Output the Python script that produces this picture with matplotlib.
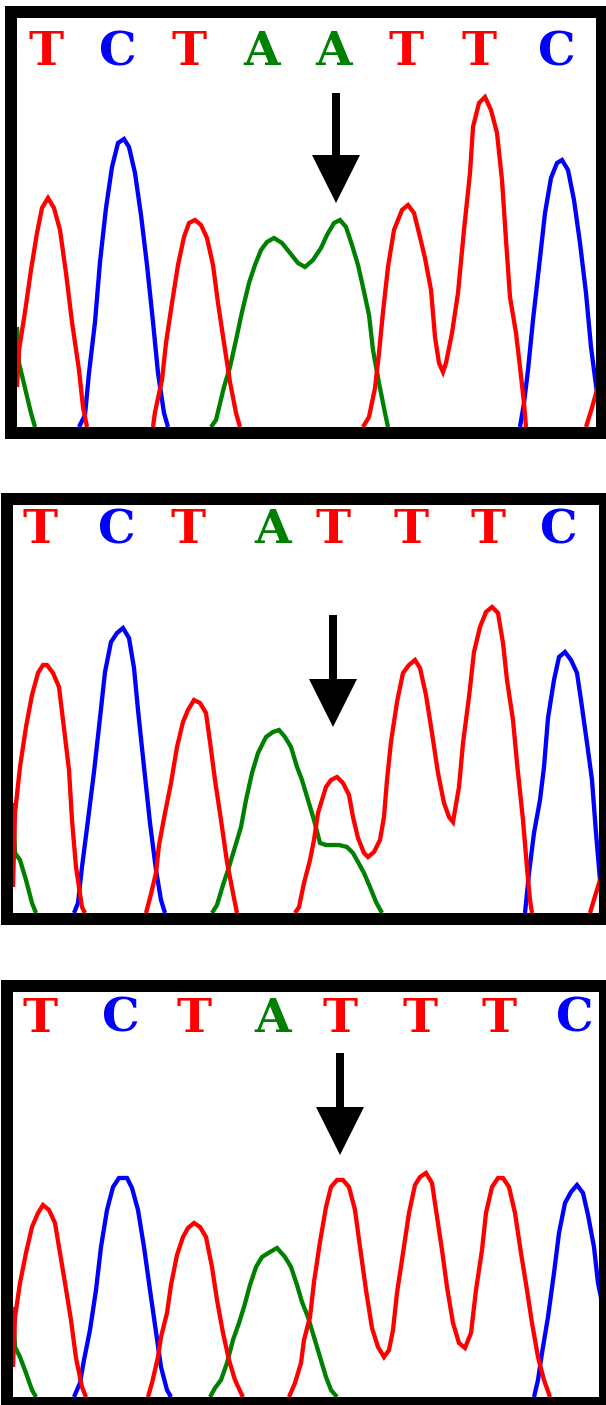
import matplotlib
matplotlib.use('Agg')
import matplotlib.pyplot as plt
from matplotlib.patches import Rectangle

# base calls shown above each trace (scan position of each letter)
p1_bases = ['T', 'C', 'T', 'A', 'A', 'T', 'T', 'C']
p1_base_pos = [29, 101, 172, 245, 317, 389, 462, 540]
p2_bases = ['T', 'C', 'T', 'A', 'T', 'T', 'T', 'C']
p2_base_pos = [27, 104, 175, 260, 320, 398, 475, 546]
p3_bases = ['T', 'C', 'T', 'A', 'T', 'T', 'T', 'C']
p3_base_pos = [27, 108, 181, 260, 327, 407, 486, 562]

# arrow marking the variant position: scan, shaft top, tip (signal units)
arrow_scan = [319, 320, 327]
arrow_top = [334, 298, 344]
arrow_tip = [224, 186, 242]

# traces: (scan, signal) pairs, one list per visible peak run
p1_red = [
    [(0, 40), (2, 77), (8, 115), (14, 157), (20, 194), (25, 219), (31, 229), (37, 219), (43, 197),
     (49, 154), (55, 105), (62, 57), (66, 20), (70, 0)],
    [(136, 0), (138, 15), (145, 47), (149, 84), (155, 124), (161, 162), (167, 190), (172, 204),
     (178, 207), (184, 202), (190, 189), (196, 162), (201, 124), (207, 84), (213, 45), (219, 14), (223, 0)],
    [(346, 0), (352, 10), (358, 39), (362, 74), (366, 115), (371, 160), (377, 197), (385, 217),
     (391, 222), (397, 214), (402, 194), (408, 169), (414, 137), (418, 90), (422, 64), (426, 55),
     (429, 64), (435, 94), (441, 134), (447, 197), (453, 254), (456, 300), (462, 324), (468, 330),
     (474, 317), (480, 294), (485, 247), (489, 187), (493, 130), (499, 94), (503, 60), (507, 24), (509, 0)],
    [(569, 0), (574, 16), (580, 37), (586, 60)],
]
p1_blue = [
    [(62, 0), (68, 12), (72, 54), (78, 105), (83, 165), (89, 219), (95, 260), (101, 284), (107, 288),
     (112, 280), (118, 254), (124, 212), (130, 162), (136, 105), (141, 54), (147, 14), (151, 0)],
    [(503, 0), (507, 24), (511, 57), (516, 107), (522, 160), (528, 214), (534, 249), (540, 264),
     (545, 267), (551, 257), (557, 227), (563, 184), (569, 134), (574, 80), (580, 34), (586, 0)],
]
p1_green = [
    [(0, 100), (2, 64), (8, 39), (14, 14), (18, 0)],
    [(194, 0), (199, 7), (207, 40), (213, 60), (219, 87), (225, 115), (232, 144), (238, 162),
     (244, 177), (250, 185), (257, 189), (265, 184), (273, 174), (281, 164), (288, 160), (296, 167),
     (304, 179), (310, 192), (317, 204), (323, 207), (329, 200), (335, 182), (341, 162), (346, 140),
     (352, 112), (356, 77), (362, 44), (368, 14), (371, 0)],
]

p2_red = [
    [(0, 26), (2, 100), (7, 146), (13, 186), (19, 218), (25, 240), (30, 248), (34, 248), (40, 240),
     (46, 226), (50, 193), (56, 143), (59, 93), (63, 46), (69, 6), (72, 0)],
    [(133, 0), (137, 15), (143, 40), (146, 68), (152, 100), (158, 130), (164, 166), (170, 191),
     (175, 203), (181, 213), (187, 210), (193, 200), (197, 171), (202, 133), (208, 93), (214, 51),
     (220, 20), (224, 0)],
    [(282, 0), (286, 6), (291, 30), (297, 53), (301, 73), (305, 100), (309, 113), (313, 126),
     (318, 133), (324, 136), (330, 130), (336, 118), (340, 96), (345, 75), (351, 60), (355, 56),
     (361, 61), (367, 73), (371, 96), (374, 133), (378, 171), (384, 211), (390, 240), (396, 248),
     (402, 253), (407, 245), (413, 218), (419, 180), (425, 140), (431, 110), (436, 96), (440, 91),
     (446, 126), (450, 170), (456, 216), (461, 261), (467, 286), (473, 301), (479, 306), (485, 300),
     (490, 270), (494, 233), (500, 193), (504, 150), (510, 93), (514, 45), (517, 13), (519, 0)],
    [(577, 0), (583, 20), (587, 33), (593, 50)],
]
p2_blue = [
    [(61, 0), (65, 10), (69, 46), (75, 93), (81, 141), (87, 195), (92, 241), (98, 271), (104, 280),
     (110, 285), (116, 275), (121, 245), (125, 203), (131, 146), (137, 90), (143, 43), (148, 13), (152, 0)],
    [(512, 0), (516, 40), (521, 80), (527, 113), (531, 146), (535, 195), (541, 233), (546, 256),
     (552, 261), (558, 253), (564, 240), (568, 213), (574, 170), (579, 133), (583, 80), (587, 33), (592, 0)],
]
p2_green = [
    [(0, 110), (2, 60), (7, 53), (13, 33), (19, 10), (23, 0)],
    [(199, 0), (204, 8), (210, 28), (216, 46), (222, 66), (228, 86), (233, 113), (239, 140),
     (245, 160), (253, 176), (260, 181), (266, 183), (272, 176), (278, 166), (284, 146), (289, 133),
     (295, 113), (301, 93), (307, 70), (313, 68), (318, 68), (326, 68), (334, 66), (340, 60),
     (345, 51), (351, 40), (357, 26), (363, 11), (369, 0)],
]

p3_red = [
    [(0, 30), (2, 80), (7, 114), (13, 144), (19, 170), (25, 184), (30, 192), (36, 187), (42, 174),
     (46, 150), (52, 114), (58, 77), (63, 39), (69, 10), (73, 0)],
    [(135, 0), (139, 14), (145, 40), (148, 60), (154, 84), (158, 112), (164, 142), (170, 160),
     (175, 169), (181, 174), (187, 170), (193, 160), (199, 130), (204, 97), (210, 64), (216, 37),
     (222, 17), (228, 4), (230, 0)],
    [(276, 0), (282, 14), (288, 34), (291, 57), (297, 80), (301, 115), (307, 155), (313, 190),
     (318, 210), (324, 217), (330, 217), (336, 210), (342, 187), (347, 150), (353, 107), (359, 69),
     (365, 50), (371, 40), (376, 47), (380, 67), (384, 104), (390, 144), (396, 184), (402, 212),
     (407, 220), (413, 224), (419, 214), (423, 187), (429, 147), (434, 110), (440, 74), (446, 54),
     (452, 49), (458, 64), (463, 107), (469, 147), (473, 184), (479, 210), (485, 219), (490, 219),
     (496, 210), (502, 184), (508, 144), (514, 107), (519, 74), (525, 40), (531, 17), (537, 0)],
]
p3_blue = [
    [(61, 0), (67, 14), (71, 37), (77, 67), (83, 107), (88, 150), (94, 187), (100, 210), (106, 219),
     (114, 219), (119, 209), (125, 187), (131, 150), (137, 107), (143, 65), (148, 30), (154, 7), (158, 0)],
    [(521, 0), (525, 17), (529, 44), (535, 80), (541, 124), (546, 164), (552, 194), (558, 205),
     (564, 212), (570, 204), (575, 182), (581, 150), (585, 114), (592, 80)],
]
p3_green = [
    [(0, 90), (2, 50), (7, 40), (13, 24), (19, 7), (23, 0)],
    [(197, 0), (202, 9), (208, 17), (214, 34), (220, 57), (226, 74), (231, 90), (237, 112),
     (243, 130), (249, 140), (257, 145), (264, 149), (272, 140), (278, 130), (284, 112), (289, 95),
     (295, 80), (301, 60), (307, 40), (313, 20), (318, 7), (324, 0)],
]

COLORS = {'T': '#ff0000', 'C': '#0000ff', 'A': '#008000'}
W, H = 606, 1405

fig = plt.figure(figsize=(W / 100, H / 100), dpi=100)
fig.patch.set_facecolor('white')


def add_panel(inner, frame, baseline, bases, base_pos, red, blue, green, k):
    left, top, right, bottom = inner
    ax = fig.add_axes([left / W, 1 - bottom / H, (right - left) / W, (bottom - top) / H])
    ax.set_xlim(0, right - left)
    ax.set_ylim(0, bottom - top)
    ax.axis('off')

    for segs, color in [(green, COLORS['A']), (blue, COLORS['C']), (red, COLORS['T'])]:
        for seg in segs:
            xs = [p[0] for p in seg]
            ys = [p[1] for p in seg]
            ax.plot(xs, ys, color=color, lw=3.1, solid_joinstyle='miter', solid_capstyle='butt')

    for b, x in zip(bases, base_pos):
        ax.text(x, baseline, b, color=COLORS[b], ha='center', va='baseline',
                fontsize=34, fontweight='bold', family='DejaVu Serif', clip_on=True)

    ax.arrow(arrow_scan[k], arrow_top[k], 0, arrow_tip[k] - arrow_top[k], width=8,
             head_width=48, head_length=48, length_includes_head=True,
             fc='black', ec='none', zorder=5)

    fl, ft, fr, fb = frame
    fig.patches.append(Rectangle((fl / W, 1 - fb / H), (fr - fl) / W, (fb - ft) / H,
                                 transform=fig.transFigure, fill=False, ec='black',
                                 lw=12 * 0.72, joinstyle='miter', zorder=10))


add_panel((17, 18, 596, 427), (11, 12, 602, 433), 362, p1_bases, p1_base_pos,
          p1_red, p1_blue, p1_green, 0)
add_panel((13, 505, 599, 913), (7, 499, 605, 919), 370, p2_bases, p2_base_pos,
          p2_red, p2_blue, p2_green, 1)
add_panel((13, 992, 599, 1397), (7, 986, 605, 1403), 365, p3_bases, p3_base_pos,
          p3_red, p3_blue, p3_green, 2)

fig.savefig('out.png', dpi=100)
